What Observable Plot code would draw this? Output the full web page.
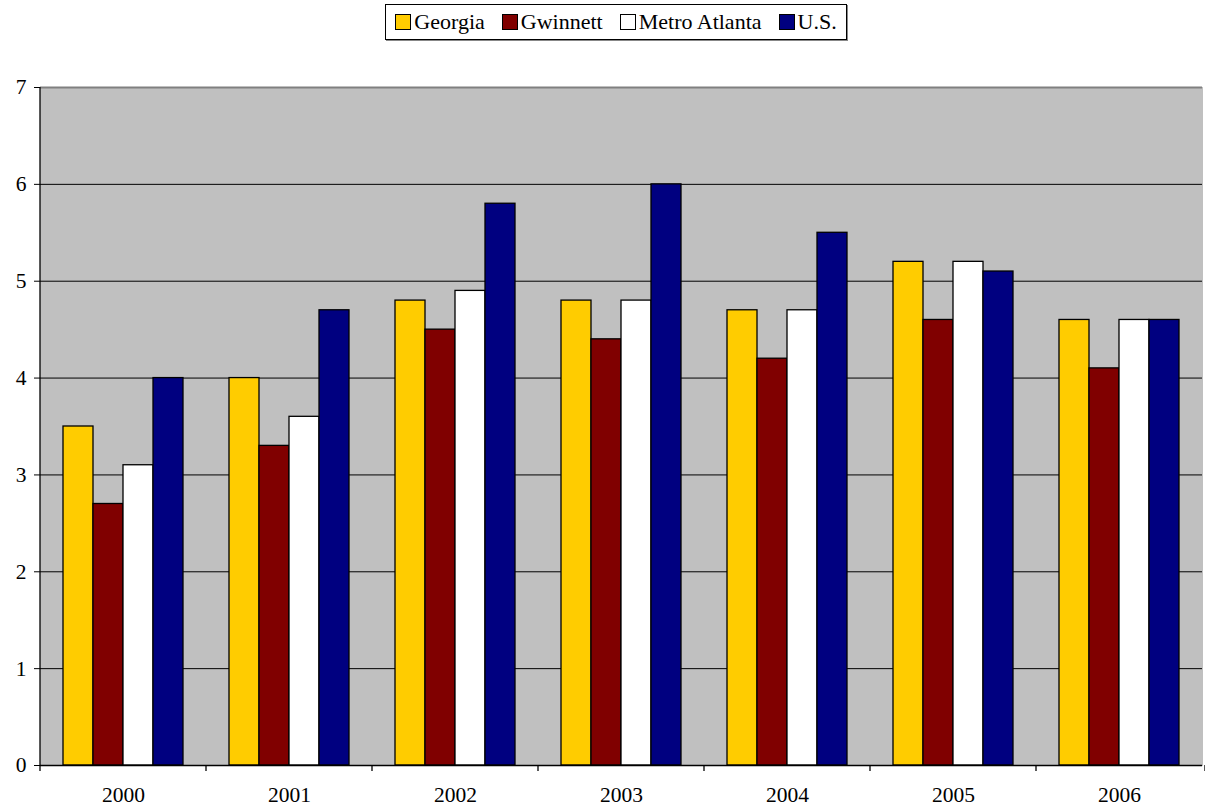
<!DOCTYPE html>
<html>
<head>
<meta charset="utf-8">
<script src="https://cdn.jsdelivr.net/npm/d3@7"></script>
<script src="https://cdn.jsdelivr.net/npm/@observablehq/plot@0.6"></script>
<style>
  html, body { margin: 0; padding: 0; background: #fff; }
  body { width: 1205px; height: 809px; position: relative; overflow: hidden;
         font-family: "Liberation Serif", "Times New Roman", serif; }
  #legend-row { position: relative; height: 50px; }
  #legend { position: absolute; left: 385px; top: 4px; width: 462px; height: 36px;
            border: 1px solid #000; box-shadow: 1px 1px 0 #888; display: flex; align-items: center;
            justify-content: center; gap: 17px; font-size: 22px; color: #000; box-sizing: border-box; }
  .item { display: flex; align-items: center; gap: 3px; }
  .sw { width: 14px; height: 14px; border: 1px solid #000; }
  #chart svg { display: block; }
</style>
</head>
<body>
<div id="legend-row"><div id="legend"></div></div>
<div id="chart"></div>
<script>
// Categories and series
const years = ["2000", "2001", "2002", "2003", "2004", "2005", "2006"];
const seriesNames = ["Georgia", "Gwinnett", "Metro Atlanta", "U.S."];
const seriesColors = ["#ffcc00", "#800000", "#ffffff", "#000080"];

// Values per series, one entry per year
const georgia      = [3.5, 4.0, 4.8, 4.8, 4.7, 5.2, 4.6];
const gwinnett     = [2.7, 3.3, 4.5, 4.4, 4.2, 4.6, 4.1];
const metroAtlanta = [3.1, 3.6, 4.9, 4.8, 4.7, 5.2, 4.6];
const us           = [4.0, 4.7, 5.8, 6.0, 5.5, 5.1, 4.6];

const yTicks = [0, 1, 2, 3, 4, 5, 6, 7];

const valuesBySeries = [georgia, gwinnett, metroAtlanta, us];
const rows = [];
years.forEach((year, i) => {
  seriesNames.forEach((s, j) => rows.push({year, series: s, value: valuesBySeries[j][i]}));
});

// Legend
const legend = document.getElementById("legend");
seriesNames.forEach((s, j) => {
  const item = document.createElement("div");
  item.className = "item";
  const sw = document.createElement("div");
  sw.className = "sw";
  sw.style.background = seriesColors[j];
  const label = document.createElement("span");
  label.textContent = s;
  item.append(sw, label);
  legend.append(item);
});

const chart = Plot.plot({
  width: 1205,
  height: 759,
  marginLeft: 37,
  marginRight: 0,
  marginTop: 37,
  marginBottom: 44,
  style: {fontFamily: "'Liberation Serif', 'Times New Roman', serif", fontSize: "21.5px", color: "#000", background: "#fff"},
  fx: {domain: years, padding: 0, label: null, tickSize: 0, tickPadding: 21},
  x: {domain: seriesNames, paddingInner: 0, paddingOuter: 0.75, axis: null},
  y: {domain: [0, 7], ticks: yTicks, tickFormat: "d", tickSize: 6, tickPadding: 8, label: null},
  color: {domain: seriesNames, range: seriesColors},
  marks: [
    Plot.frame({fill: "#c0c0c0", stroke: "#c0c0c0", strokeWidth: 1}),
    Plot.ruleY(yTicks.filter(t => t > 0 && t < 7), {stroke: "#000", strokeWidth: 1}),
    Plot.ruleY([7], {stroke: "#808080", strokeWidth: 2}),
    Plot.barY(rows, {fx: "year", x: "series", y: "value", fill: "series", stroke: "#000", strokeWidth: 1.3}),
    Plot.ruleY([0], {stroke: "#000", strokeWidth: 1.5})
  ]
});

// Value axis line and category boundary ticks, placed with the chart's own scales
const fx = Plot.scale({fx: chart.scale("fx")});
const y = Plot.scale({y: chart.scale("y")});
const fxRange = chart.scale("fx").range;
const bounds = years.map(yr => fx.apply(yr)).concat([fxRange[1]]);
const g = d3.select(chart).append("g").attr("stroke", "#000").attr("stroke-width", 1.3);
g.append("line")
  .attr("x1", bounds[0]).attr("x2", bounds[0])
  .attr("y1", y.apply(7)).attr("y2", y.apply(0) + 6);
g.selectAll(".bt").data(bounds.slice(1)).join("line")
  .attr("x1", d => d).attr("x2", d => d)
  .attr("y1", y.apply(0)).attr("y2", y.apply(0) + 6);

document.getElementById("chart").append(chart);
</script>
</body>
</html>
